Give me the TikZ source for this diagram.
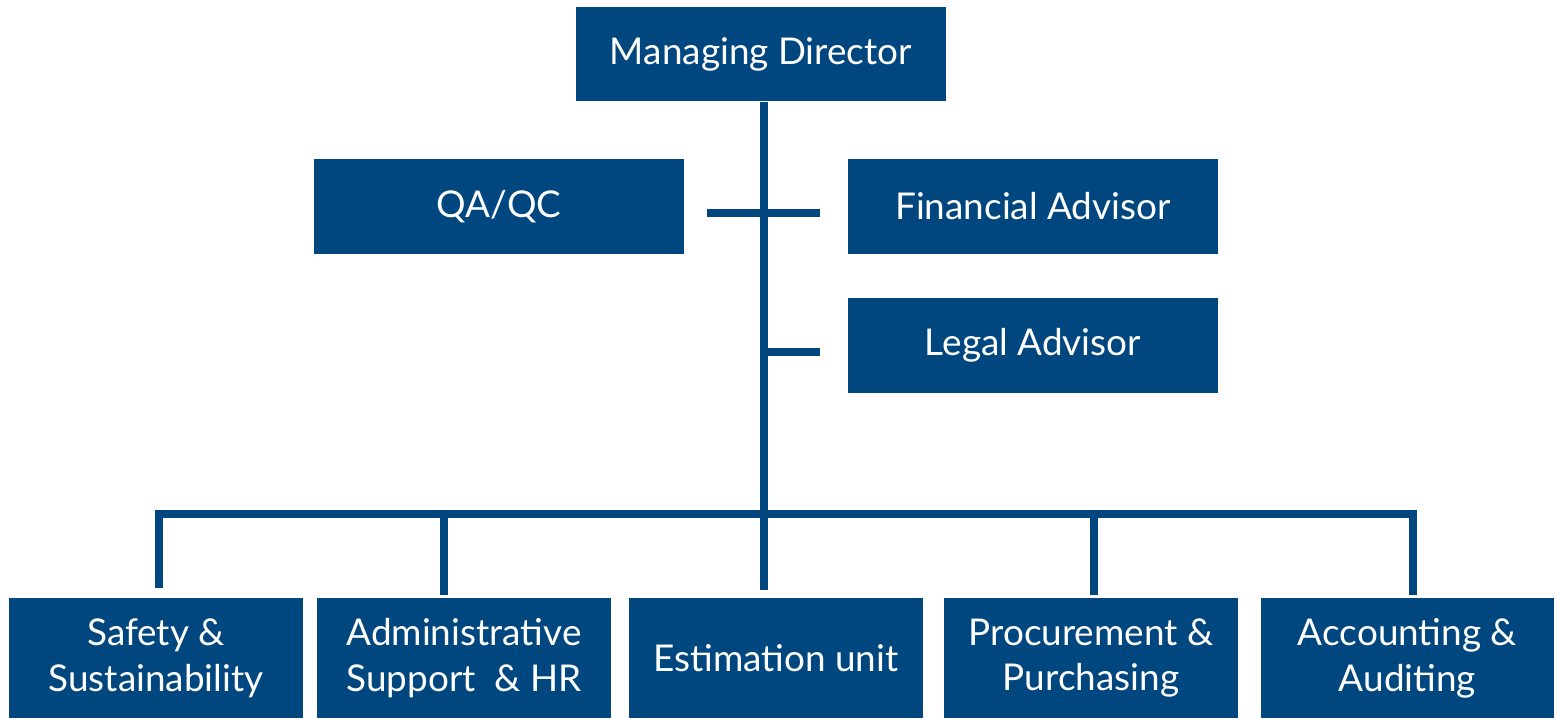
\documentclass[tikz,border=0pt]{standalone}
\usepackage{fontspec}
\setmainfont{Lato}
\usetikzlibrary{positioning}
\definecolor{orgblue}{RGB}{0,71,127}

\begin{document}
\begin{tikzpicture}[x=0.02cm, y=-0.02cm,
    box/.style={fill=orgblue, text=white, inner sep=0pt, align=center,
      font=\fontsize{21}{26}\selectfont},
    topbox/.style={box, minimum width=7.4cm, minimum height=1.9cm},
    unitbox/.style={box, minimum width=5.88cm, minimum height=2.4cm},
    link/.style={draw=orgblue, line width=0.16cm, miter limit=10}]

    \useasboundingbox (0,0) rectangle (1555,719);

    \node[topbox] (md) at (761,54) {Managing Director};
    \node[topbox] (qa) at (499,206.5) {QA/QC};
    \node[topbox] (fa) at (1033,206.5) {Financial Advisor};
    \node[topbox] (la) at (1033,345.5) {Legal Advisor};

    \node[unitbox] (safe) at (156,658) {Safety \&\\Sustainability};
    \node[unitbox] (admin) at (464,658) {Administrative\\Support \ \& HR};
    \node[unitbox] (est) at (776,658) {Estimation unit};
    \node[unitbox] (proc) at (1091,658) {Procurement \&\\Purchasing};
    \node[unitbox] (acc) at (1407.5,658) {Accounting \&\\Auditing};

    % trunk and side branches
    \coordinate (bus) at (764,514);
    \coordinate (qaend) at (707,213);
    \coordinate (faend) at (820,213);
    \coordinate (laend) at (820,352);
    \draw[link] (md.south -| bus) -- ([yshift=0.16cm]est.north -| bus);
    \draw[link] (qaend) -- (faend);
    \draw[link] (laend -| bus) -- (laend);

    % bottom bus
    \coordinate (b1) at (159,514);
    \coordinate (b2) at (444,514);
    \coordinate (b4) at (1094,514);
    \coordinate (b5) at (1413,514);
    \draw[link] ([yshift=0.2cm]b1 |- safe.north) -- (b1) -- (b5)
        -- ([yshift=0.06cm]b5 |- acc.north);
    \foreach \b/\n in {b2/admin, b4/proc}
        \draw[link] (\b) -- ([yshift=0.06cm]\b |- \n.north);

\end{tikzpicture}
\end{document}
